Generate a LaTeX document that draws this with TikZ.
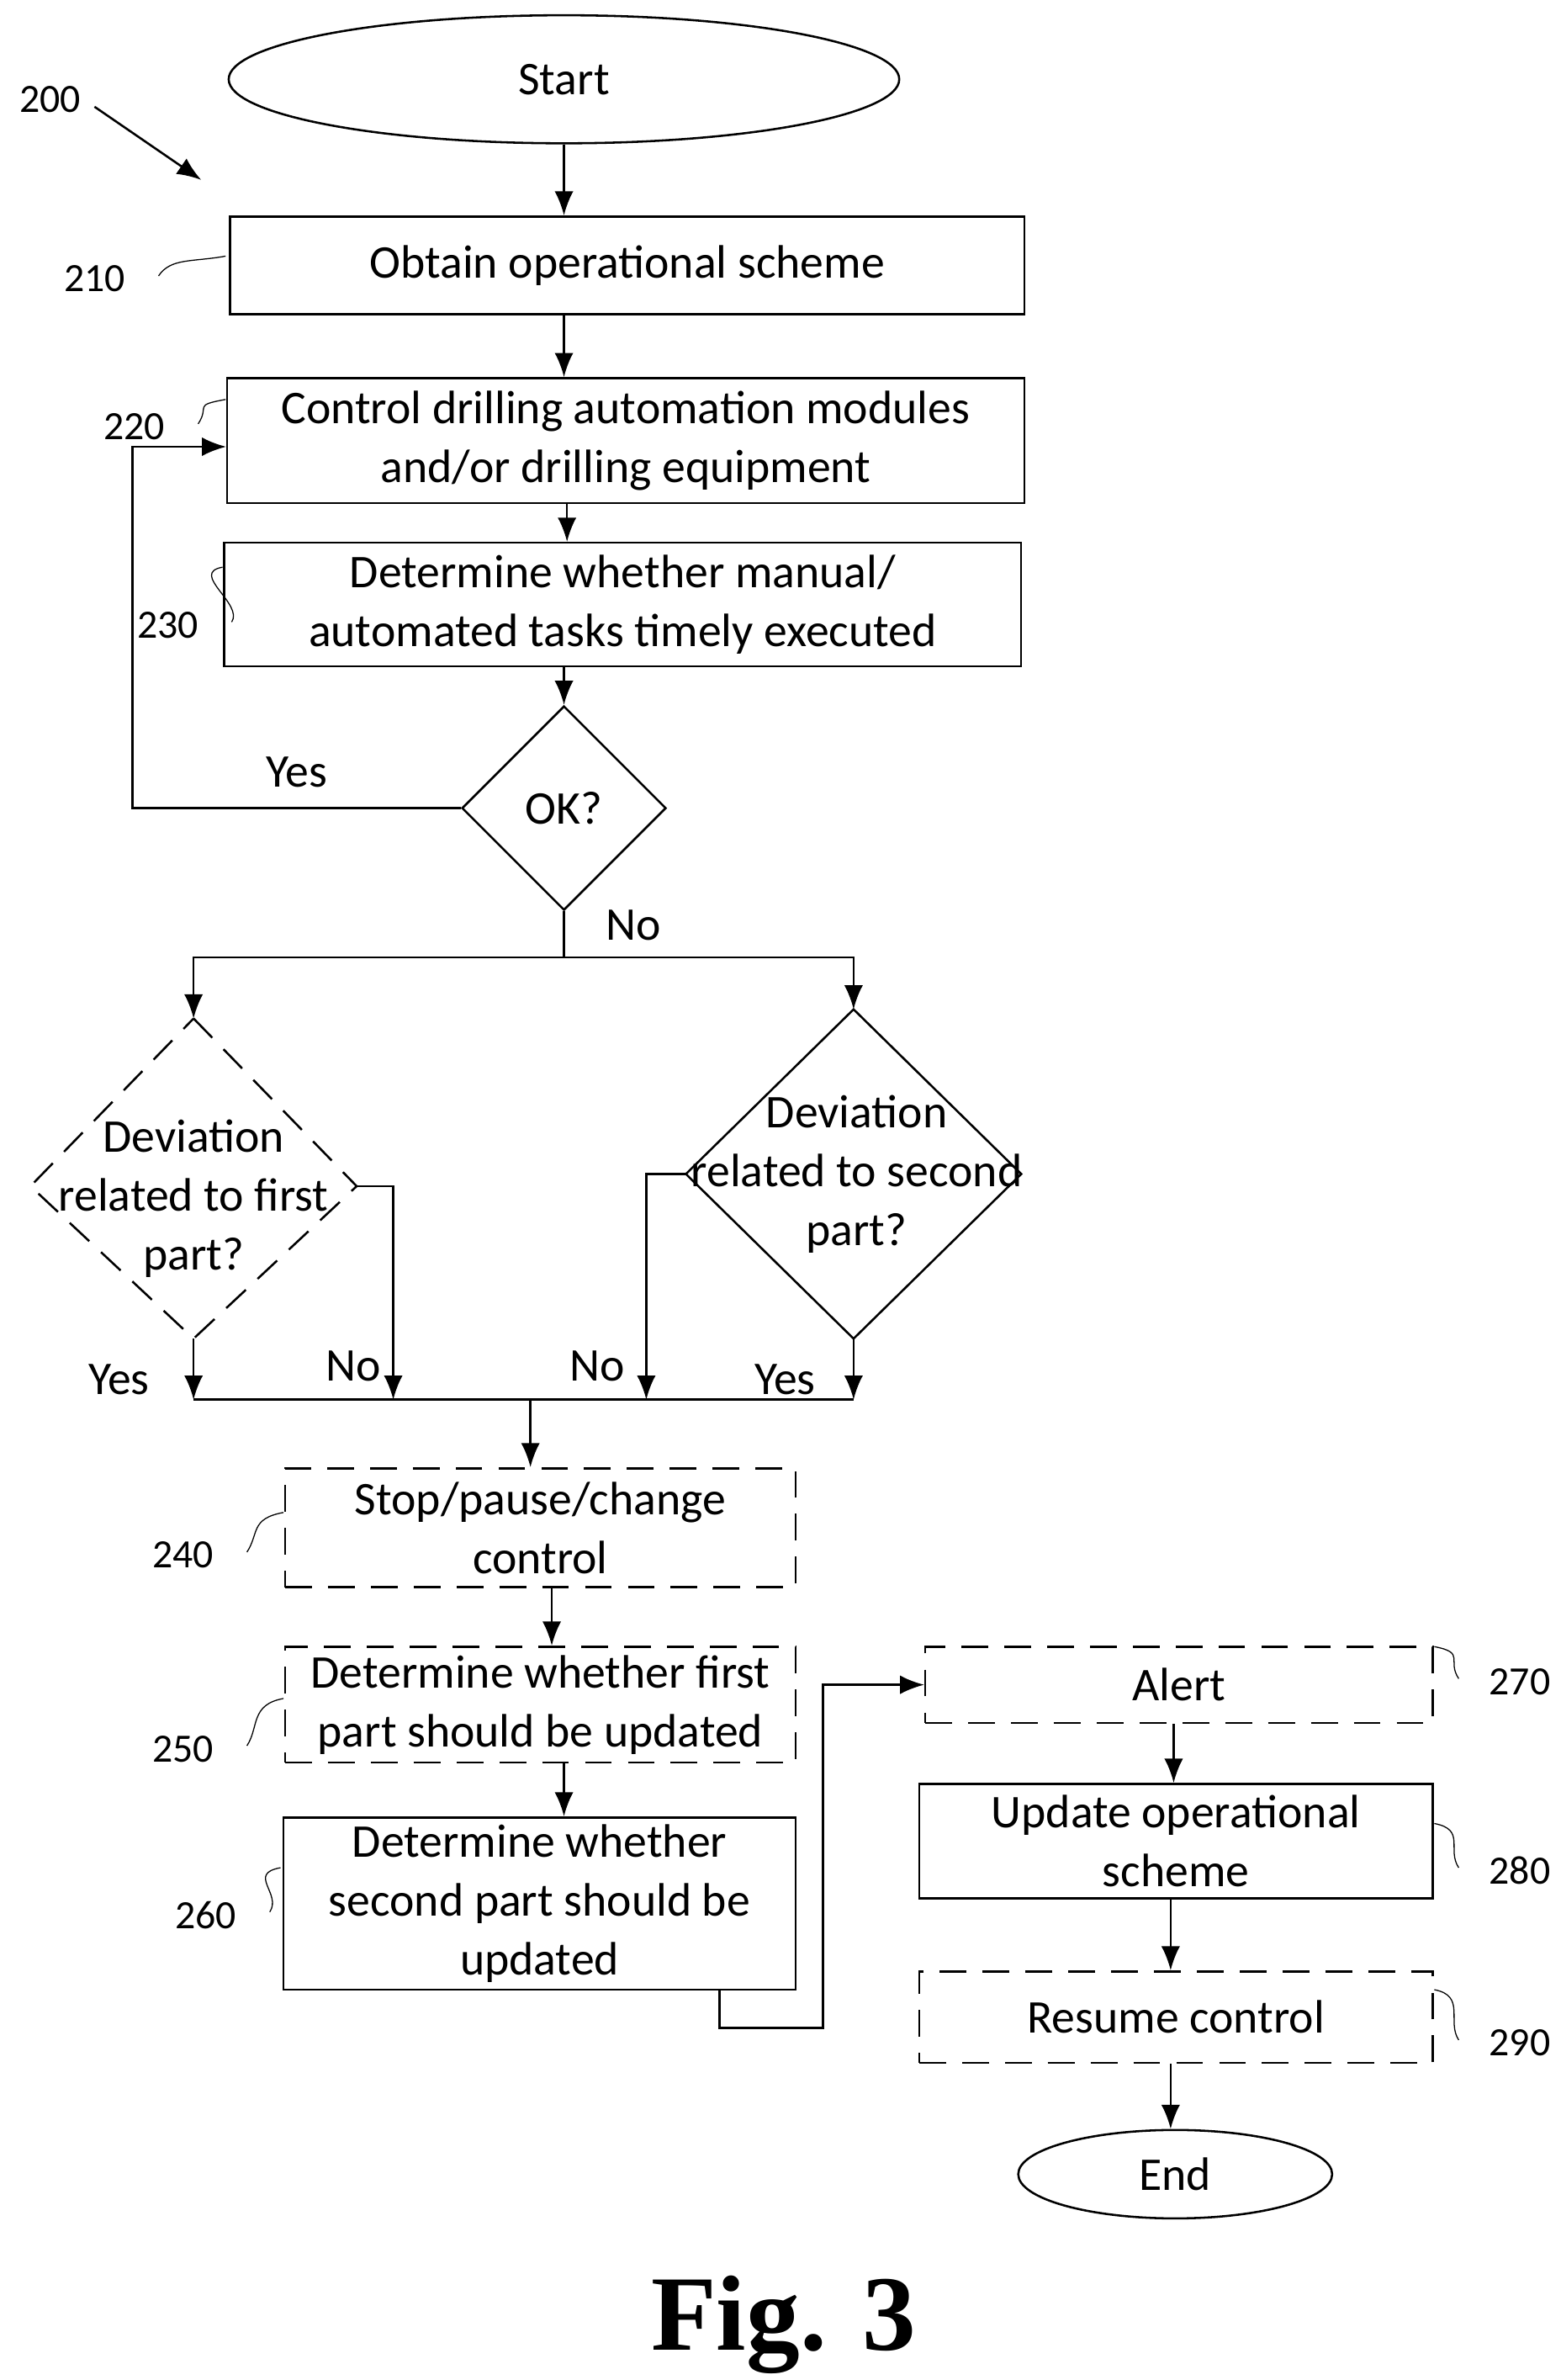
\documentclass[tikz,border=0pt]{standalone}
\usepackage{fontspec}
\setmainfont{Carlito}
\newfontfamily\figfont{Liberation Serif}
\usetikzlibrary{arrows.meta,shapes.geometric}
\tikzset{
  box/.style={draw,thick,align=center,inner sep=0pt},
  dbox/.style={box,dash pattern=on 10pt off 6pt},
  term/.style={draw,thick,ellipse,inner sep=0pt},
  dec/.style={draw,thick,diamond,aspect=1,inner sep=0pt,align=center},
  flow/.style={thick,-{Latex[length=9pt,width=7pt]}},
  link/.style={thick},
  lbl/.style={font=\fontsize{15}{18}\selectfont},
}
\begin{document}
\begin{tikzpicture}[x=0.02cm,y=-0.02cm,font=\fontsize{17.5}{22}\selectfont]
  \useasboundingbox (0,0) rectangle (1024,1561);
  % terminals
  \node[term,minimum width=8.8cm,minimum height=1.68cm] (start) at (370,52) {Start};
  \node[term,minimum width=4.12cm,minimum height=1.16cm] (end) at (771,1426) {End};
  % main steps
  \node[box,minimum width=10.42cm,minimum height=1.28cm] (s210) at (411.5,174) {Obtain operational scheme};
  \node[box,minimum width=10.46cm,minimum height=1.64cm] (s220) at (410.5,289) {Control drilling automation modules\\and/or drilling equipment};
  \node[box,minimum width=10.46cm,minimum height=1.62cm] (s230) at (408.5,396.5) {Determine whether manual/\\automated tasks timely executed};
  \node[dec,minimum width=2.68cm,minimum height=2.68cm] (ok) at (370,530) {OK?};
  % deviation diamonds (text runs over the outline)
  \coordinate (d1n) at (127,668); \coordinate (d1e) at (234,778);
  \coordinate (d1s) at (127,878); \coordinate (d1w) at (20,778);
  \draw[thick,dash pattern=on 10pt off 6pt] (d1n) -- (d1e) -- (d1s) -- (d1w) -- cycle;
  \node[align=center] (d1) at (127,786) {Deviation\\related to first\\part?};
  \coordinate (d2n) at (560,662); \coordinate (d2e) at (670,770);
  \coordinate (d2s) at (560,878); \coordinate (d2w) at (450,770);
  \draw[thick] (d2n) -- (d2e) -- (d2s) -- (d2w) -- cycle;
  \node[align=center] (d2) at (562,770) {Deviation\\related to second\\part?};
  \node[dbox,minimum width=6.7cm,minimum height=1.56cm] (s240) at (354.5,1002) {Stop/pause/change\\control};
  \node[dbox,minimum width=6.7cm,minimum height=1.52cm] (s250) at (354.5,1118) {Determine whether first\\part should be updated};
  \node[box,minimum width=6.72cm,minimum height=2.26cm] (s260) at (354,1248.5) {Determine whether\\second part should be\\updated};
  \node[dbox,minimum width=6.66cm,minimum height=1.0cm] (s270) at (773.5,1105) {Alert};
  \node[box,minimum width=6.74cm,minimum height=1.5cm] (s280) at (771.5,1207.5) {Update operational\\scheme};
  \node[dbox,minimum width=6.74cm,minimum height=1.2cm] (s290) at (771.5,1323) {Resume control};
  % reference numerals
  \node[lbl] (n200) at (33,65) {200};
  \coordinate (a200) at (132,118);
  \draw[flow] (62,70) -- (a200);
  \foreach \n/\x/\y/\cx/\cy in {210/62/183/148/168, 220/88/280/148/262, 230/110/410/146/372,
      240/120/1020/186/992, 250/120/1147/186/1114, 260/135/1256/184/1225} {
    \node[lbl] (n\n) at (\x,\y) {\n};
    \draw[thin] (\x+42,\y-2) .. controls (\x+50,\y-14) and (\cx-22,\cy+4) .. (\cx,\cy);
  }
  \foreach \n/\y/\cy in {270/1103/1080, 280/1227/1196, 290/1340/1305} {
    \node[lbl] (n\n) at (997,\y) {\n};
    \draw[thin] (997-40,\y-2) .. controls (997-48,\y-14) and (962,\cy+4) .. (941,\cy);
  }
  % connectors
  \draw[flow] (start.south) -- (start.south |- s210.north);
  \draw[flow] (s210.south -| start.south) -- (s220.north -| start.south);
  \draw[flow] (s220.south -| 372,0) -- (s230.north -| 372,0);
  \draw[flow] (s230.south -| 370,0) -- (ok);
  \draw[flow] (ok.west) -- (ok.west -| 87,0) node[pos=0.5,above=4pt] {Yes} |- (s220.west |- 0,293);
  \coordinate (split) at (370,628);
  \draw[link] (ok.south) -- (split) node[pos=0.3,right=12pt] {No};
  \draw[flow] (split) -| (d1n);
  \draw[flow] (split) -| (d2n);
  \coordinate (join) at (348,918);
  \draw[link] (127,918) -- (560,918);
  \draw[flow] (d1s) -- (127,918);
  \node (y1) at (78,905) {Yes};
  \draw[flow] (d1e) -| (258,918);
  \node (n1) at (232,896) {No};
  \draw[flow] (d2w) -| (424,918);
  \node (n2) at (392,896) {No};
  \draw[flow] (d2s) -- (560,918);
  \node (y2) at (515,905) {Yes};
  \draw[flow] (join) -- (s240.north -| join);
  \draw[flow] (s240.south -| 362,0) -- (s250.north -| 362,0);
  \draw[flow] (s250.south -| 370,0) -- (s260.north -| 370,0);
  \draw[flow] (s260.south -| 472,0) -- (472,1330) -- (540,1330) |- (s270.west);
  \draw[flow] (s270.south -| 770,0) -- (s280.north -| 770,0);
  \draw[flow] (s280.south -| 768,0) -- (s290.north -| 768,0);
  \draw[flow] (s290.south -| 768,0) -- (end.north -| 768,0);
  % caption
  \node[font=\figfont\bfseries\fontsize{40}{46}\selectfont] (cap) at (514,1525) {Fig. 3};
\end{tikzpicture}
\end{document}
